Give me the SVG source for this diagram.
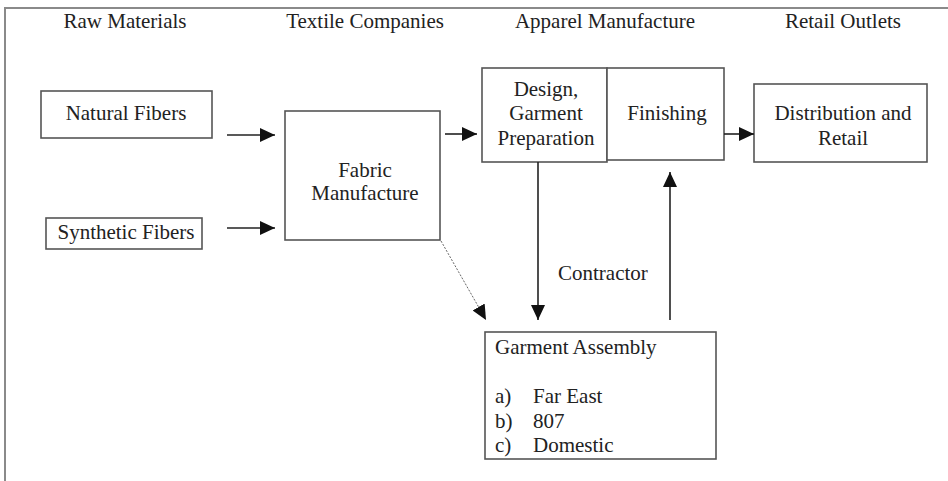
<svg xmlns="http://www.w3.org/2000/svg" width="948" height="481" viewBox="0 0 948 481">
<defs>
<style>
text{font-family:'Liberation Serif','Times New Roman',serif;font-size:21px;fill:#222}
.box{fill:#fff;stroke:#555;stroke-width:1.6}
.c{text-anchor:middle}
.ln{stroke:#222;stroke-width:1.6;fill:none}
.dot{stroke:#666;stroke-width:1;stroke-dasharray:2 1.5;fill:none}
.frame{stroke:#8a8a8a;stroke-width:2;fill:none}
</style>
<marker id="ah" markerUnits="userSpaceOnUse" markerWidth="16" markerHeight="14" refX="15" refY="7" orient="auto">
<path d="M0,0 L15,7 L0,14 z" fill="#111"/>
</marker>
</defs>
<rect width="948" height="481" fill="#fff"/>
<path class="frame" d="M5,481 L5,8 L948,8"/>
<g id="headers">
<text x="125" y="28" class="c">Raw Materials</text>
<text x="365" y="28" class="c">Textile Companies</text>
<text x="605" y="28" class="c">Apparel Manufacture</text>
<text x="843" y="28" class="c">Retail Outlets</text>
</g>
<g id="natural">
<rect class="box" x="41" y="91" width="171" height="47"/>
<text x="126" y="120" class="c">Natural Fibers</text>
</g>
<g id="synthetic">
<rect class="box" x="46" y="218" width="156" height="31"/>
<text x="126" y="239" class="c">Synthetic Fibers</text>
</g>
<g id="fabric">
<rect class="box" x="285" y="111" width="155" height="129"/>
<text x="365" y="177" class="c">Fabric</text>
<text x="365" y="200" class="c">Manufacture</text>
</g>
<g id="design">
<rect class="box" x="482" y="68" width="125" height="94"/>
<text x="546" y="96" class="c">Design,</text>
<text x="546" y="120" class="c">Garment</text>
<text x="546" y="145" class="c">Preparation</text>
</g>
<g id="finishing">
<rect class="box" x="607" y="68" width="117" height="92"/>
<text x="667" y="120" class="c">Finishing</text>
</g>
<g id="distribution">
<rect class="box" x="754" y="84" width="173" height="78"/>
<text x="843" y="120" class="c">Distribution and</text>
<text x="843" y="145" class="c">Retail</text>
</g>
<g id="assembly">
<rect class="box" x="485" y="332" width="231" height="127"/>
<text x="495" y="354">Garment Assembly</text>
<text x="495" y="403">a)</text><text x="533" y="403">Far East</text>
<text x="495" y="428">b)</text><text x="533" y="428">807</text>
<text x="495" y="452">c)</text><text x="533" y="452">Domestic</text>
</g>
<g id="connectors">
<line class="ln" x1="227" y1="135" x2="275" y2="135" marker-end="url(#ah)"/>
<line class="ln" x1="227" y1="228" x2="275" y2="228" marker-end="url(#ah)"/>
<line class="ln" x1="445" y1="134" x2="477" y2="134" marker-end="url(#ah)"/>
<line class="ln" x1="724" y1="134" x2="754" y2="134" marker-end="url(#ah)"/>
<line class="ln" x1="538" y1="162" x2="538" y2="320" marker-end="url(#ah)"/>
<line class="ln" x1="670" y1="320" x2="670" y2="172" marker-end="url(#ah)"/>
<line class="dot" x1="441" y1="241" x2="486" y2="320" marker-end="url(#ah)"/>
<text x="558" y="280">Contractor</text>
</g>
</svg>
